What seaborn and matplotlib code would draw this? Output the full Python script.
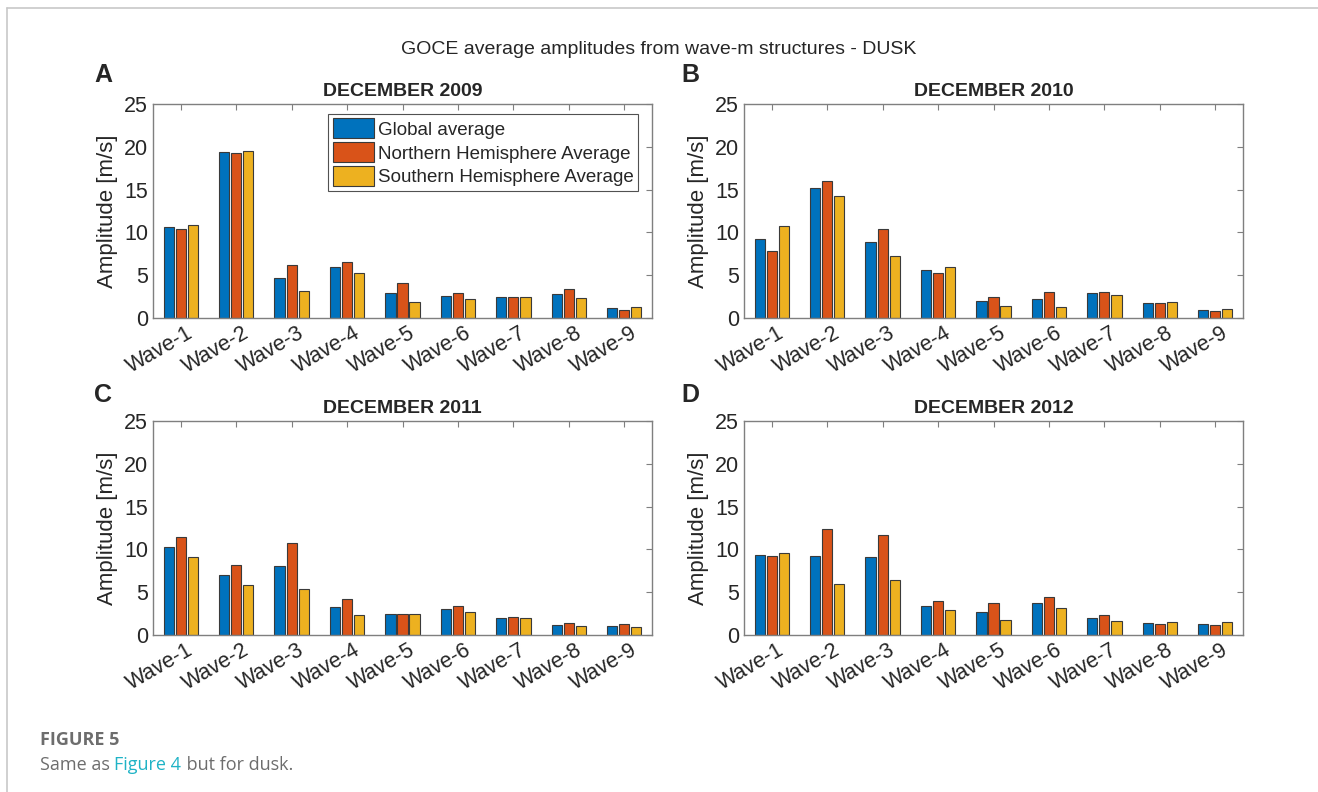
import numpy as np
import pandas as pd
import matplotlib
matplotlib.use("Agg")
import matplotlib.pyplot as plt
import matplotlib.transforms as mtransforms
import seaborn as sns

waves = ["Wave-1", "Wave-2", "Wave-3", "Wave-4", "Wave-5", "Wave-6", "Wave-7", "Wave-8", "Wave-9"]
series = ["Global average", "Northern Hemisphere Average", "Southern Hemisphere Average"]
colors = ["#0072BD", "#D95319", "#EDB120"]

# DECEMBER 2009
glob_2009 = [10.66, 19.41, 4.69, 5.90, 2.97, 2.54, 2.50, 2.85, 1.17]
north_2009 = [10.43, 19.26, 6.17, 6.60, 4.10, 2.97, 2.46, 3.36, 0.98]
south_2009 = [10.90, 19.53, 3.20, 5.20, 1.84, 2.23, 2.50, 2.30, 1.33]
# DECEMBER 2010
glob_2010 = [9.22, 15.16, 8.83, 5.59, 1.99, 2.19, 2.89, 1.80, 0.98]
north_2010 = [7.77, 16.05, 10.43, 5.20, 2.50, 3.05, 3.09, 1.72, 0.86]
south_2010 = [10.70, 14.26, 7.19, 5.98, 1.45, 1.33, 2.66, 1.84, 1.09]
# DECEMBER 2011
glob_2011 = [10.27, 7.03, 8.09, 3.32, 2.46, 3.09, 1.99, 1.21, 1.09]
north_2011 = [11.48, 8.13, 10.78, 4.26, 2.46, 3.44, 2.07, 1.45, 1.25]
south_2011 = [9.10, 5.86, 5.35, 2.34, 2.50, 2.73, 1.95, 1.02, 0.98]
# DECEMBER 2012
glob_2012 = [9.34, 9.18, 9.10, 3.44, 2.73, 3.79, 1.99, 1.37, 1.33]
north_2012 = [9.18, 12.34, 11.72, 3.95, 3.75, 4.45, 2.30, 1.29, 1.21]
south_2012 = [9.57, 5.98, 6.41, 2.93, 1.72, 3.13, 1.68, 1.52, 1.52]

panels = [
    ("A", "DECEMBER 2009", glob_2009, north_2009, south_2009),
    ("B", "DECEMBER 2010", glob_2010, north_2010, south_2010),
    ("C", "DECEMBER 2011", glob_2011, north_2011, south_2011),
    ("D", "DECEMBER 2012", glob_2012, north_2012, south_2012),
]

sns.set_style("white")
plt.rcParams["font.family"] = ["Liberation Sans", "DejaVu Sans"]

fig = plt.figure(figsize=(13.18, 7.92), dpi=100)

# card frame lines
fig.add_artist(plt.Line2D([7 / 1318, 1], [1 - 8 / 792, 1 - 8 / 792], color="#c8c8c8", lw=1.2))
fig.add_artist(plt.Line2D([7 / 1318, 7 / 1318], [0, 1 - 8 / 792], color="#c8c8c8", lw=1.2))

boxes = [
    (153 / 1318, 1 - 318 / 792),
    (744 / 1318, 1 - 318 / 792),
    (153 / 1318, 1 - 635 / 792),
    (744 / 1318, 1 - 635 / 792),
]
w, h = 499 / 1318, 214 / 792
letter_pos = [(103, 75), (690, 75), (103, 395), (690, 395)]
shift = mtransforms.ScaledTranslation(6 / 100, 0, fig.dpi_scale_trans)

for i, (letter, title, g, n, s) in enumerate(panels):
    ax = fig.add_axes([boxes[i][0], boxes[i][1], w, h])
    df = pd.DataFrame({
        "wave": waves * 3,
        "amp": g + n + s,
        "series": [series[0]] * 9 + [series[1]] * 9 + [series[2]] * 9,
    })
    sns.barplot(data=df, x="wave", y="amp", hue="series", hue_order=series,
                palette=colors, width=0.65, gap=0.15, edgecolor="#3a3a3a",
                linewidth=0.8, ax=ax, legend=(i == 0), saturation=1)
    ax.set_ylim(0, 25)
    ax.set_xlim(-0.5, 8.5)
    ax.set_yticks([0, 5, 10, 15, 20, 25])
    ax.set_xlabel("")
    ax.set_ylabel("Amplitude [m/s]", fontsize=16, color="#262626", labelpad=4)
    ax.set_title(title, fontsize=14, fontweight="bold", pad=6)
    ax.tick_params(axis="both", direction="in", length=4, width=0.8, color="#7f7f7f",
                   labelsize=15.5, labelcolor="#262626", top=True, right=True)
    for lab in ax.get_xticklabels():
        lab.set_rotation(30)
        lab.set_ha("right")
        lab.set_rotation_mode("anchor")
        lab.set_transform(lab.get_transform() + shift)
    for sp in ax.spines.values():
        sp.set_visible(True)
        sp.set_color("#7f7f7f")
        sp.set_linewidth(1.0)
    fig.text(letter_pos[i][0] / 1318, 1 - letter_pos[i][1] / 792, letter,
             fontsize=18, fontweight="bold", ha="center", va="center")
    if i == 0:
        leg = ax.legend(loc="upper right", bbox_to_anchor=(0.972, 0.955), borderaxespad=0,
                        fontsize=13.5, frameon=True, fancybox=False, handlelength=2.2,
                        handleheight=1.25, handletextpad=0.2, labelspacing=0.2,
                        borderpad=0.25, title=None)
        leg.get_frame().set_edgecolor("#262626")
        leg.get_frame().set_linewidth(0.8)

fig.text(0.5, 1 - 50 / 792, "GOCE average amplitudes from wave-m structures - DUSK",
         ha="center", va="center", fontsize=14, color="#262626")

fig.text(40 / 1318, 1 - 740 / 792, "FIGURE 5", fontsize=13, fontweight="bold",
         color="#6d6d6d", family="Open Sans", va="center")
t1 = fig.text(40 / 1318, 1 - 765 / 792, "Same as ", fontsize=13, color="#6d6d6d",
              family="Open Sans", va="center")
fig.canvas.draw()
r = fig.canvas.get_renderer()
bb = t1.get_window_extent(r)
t2 = fig.text(bb.x1 / 1318, 1 - 765 / 792, "Figure 4", fontsize=13, color="#1fb3c6",
              family="Open Sans", va="center")
bb2 = t2.get_window_extent(r)
fig.text(bb2.x1 / 1318, 1 - 765 / 792, " but for dusk.", fontsize=13, color="#6d6d6d",
         family="Open Sans", va="center")

fig.savefig("out.png", dpi=100)
